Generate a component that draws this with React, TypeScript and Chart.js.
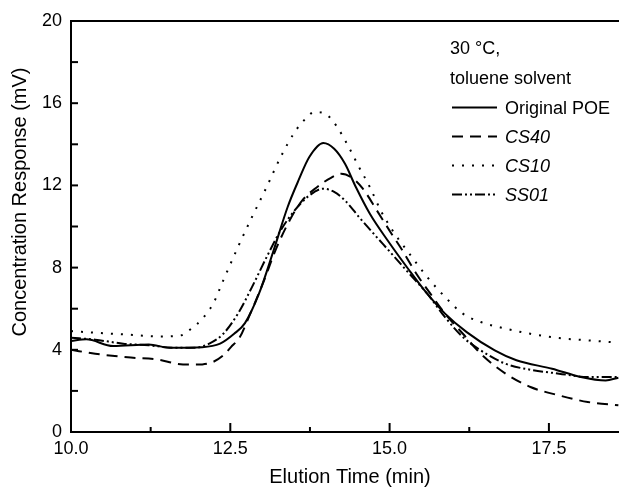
import React, { useEffect, useRef } from 'react';
import { Chart, registerables } from 'chart.js';

Chart.register(...registerables);

// ---- Data ----
const timePOE = [10.0, 10.24, 10.66, 11.22, 11.55, 12.06, 12.34, 12.56, 12.73, 12.95, 13.18, 13.4, 13.57, 13.74, 13.96, 14.13, 14.3, 14.47, 14.69, 14.97, 15.31, 15.59, 15.87, 16.21, 16.65, 16.99, 17.55, 18.0, 18.39, 18.59];
const respPOE = [4.43, 4.51, 4.18, 4.26, 4.1, 4.13, 4.3, 4.78, 5.3, 6.73, 8.84, 10.95, 12.24, 13.38, 14.06, 13.78, 13.05, 11.92, 10.62, 9.32, 7.86, 6.73, 5.76, 4.86, 3.97, 3.49, 3.08, 2.68, 2.51, 2.64];

const timeCS40 = [10.0, 10.38, 10.94, 11.38, 11.66, 11.89, 12.06, 12.23, 12.39, 12.51, 12.65, 12.79, 13.01, 13.23, 13.46, 13.63, 13.85, 14.08, 14.24, 14.41, 14.58, 14.8, 15.03, 15.2, 15.42, 15.64, 15.87, 16.15, 16.43, 16.82, 17.21, 17.66, 18.11, 18.59];
const respCS40 = [4.0, 3.81, 3.62, 3.52, 3.32, 3.28, 3.29, 3.41, 3.73, 4.13, 4.62, 5.59, 7.22, 9.0, 10.46, 11.27, 11.89, 12.37, 12.57, 12.37, 11.84, 10.78, 9.65, 8.84, 7.7, 6.73, 5.76, 4.78, 3.81, 2.84, 2.19, 1.78, 1.46, 1.3];

const timeCS10 = [10.0, 10.38, 10.94, 11.38, 11.72, 11.89, 12.06, 12.23, 12.39, 12.62, 12.84, 13.07, 13.29, 13.51, 13.68, 13.82, 13.99, 14.16, 14.36, 14.52, 14.69, 14.86, 15.08, 15.31, 15.59, 15.87, 16.15, 16.43, 16.82, 17.21, 17.66, 18.11, 18.59];
const respCS10 = [4.91, 4.83, 4.73, 4.65, 4.7, 5.03, 5.51, 6.24, 7.38, 9.0, 10.46, 11.92, 13.38, 14.59, 15.24, 15.57, 15.49, 14.92, 13.86, 12.89, 11.92, 10.78, 9.65, 8.68, 7.54, 6.57, 5.76, 5.35, 5.03, 4.78, 4.57, 4.46, 4.35];

const timeSS01 = [10.0, 10.38, 10.82, 11.22, 11.61, 11.95, 12.17, 12.39, 12.62, 12.84, 13.07, 13.29, 13.51, 13.74, 13.96, 14.13, 14.3, 14.52, 14.75, 15.03, 15.31, 15.59, 15.87, 16.15, 16.43, 16.82, 17.21, 17.66, 18.11, 18.59];
const respSS01 = [4.59, 4.49, 4.3, 4.22, 4.1, 4.1, 4.3, 4.78, 5.76, 7.05, 8.51, 9.81, 10.78, 11.51, 11.84, 11.68, 11.27, 10.46, 9.65, 8.68, 7.7, 6.73, 5.59, 4.62, 3.97, 3.32, 3.03, 2.84, 2.68, 2.68];

const seriesNames = ['Original POE', 'CS40', 'CS10', 'SS01'];
const legendHeader = ['30 \u00B0C,', 'toluene solvent'];
const xTitle = 'Elution Time (min)';
const yTitle = 'Concentration Response (mV)';
const xMin = 10;
const xMax = 18.6;
const xStep = 1.25;
const xLabelStep = 2.5;
const yMin = 0;
const yMax = 20;
const yStep = 2;
const yLabelStep = 4;

const FONT = "'Liberation Sans', Arial, Helvetica, sans-serif";

function pts(xs: number[], ys: number[]) {
  return xs.map((x, i) => ({ x, y: ys[i] }));
}

function isMultiple(v: number, step: number) {
  const r = v / step;
  return Math.abs(r - Math.round(r)) < 1e-6;
}

const overlayPlugin = {
  id: 'overlay',
  afterDraw(chart: any) {
    const ctx = chart.ctx as CanvasRenderingContext2D;
    const { left, right, top, bottom } = chart.chartArea;
    const xs = chart.scales.x;
    const ys = chart.scales.y;
    ctx.save();
    ctx.strokeStyle = '#000';
    ctx.fillStyle = '#000';
    ctx.lineWidth = 2;
    ctx.setLineDash([]);
    // top frame line
    ctx.beginPath();
    ctx.moveTo(left, top);
    ctx.lineTo(right, top);
    ctx.stroke();
    // inward ticks on y
    ys.ticks.forEach((t: any) => {
      const p = ys.getPixelForValue(t.value);
      ctx.beginPath();
      ctx.moveTo(left, p);
      ctx.lineTo(left + 7, p);
      ctx.stroke();
    });
    // inward ticks on x
    xs.ticks.forEach((t: any) => {
      const p = xs.getPixelForValue(t.value);
      const major = isMultiple(t.value, xLabelStep);
      ctx.beginPath();
      ctx.moveTo(p, bottom);
      ctx.lineTo(p, bottom - (major ? 9 : 5));
      ctx.stroke();
    });
    // axis titles
    ctx.font = `20px ${FONT}`;
    ctx.textAlign = 'center';
    ctx.textBaseline = 'middle';
    ctx.fillText(xTitle, 350, 477);
    ctx.save();
    ctx.translate(20, 202);
    ctx.rotate(-Math.PI / 2);
    ctx.fillText(yTitle, 0, 0);
    ctx.restore();
    // legend
    ctx.textAlign = 'left';
    ctx.textBaseline = 'alphabetic';
    ctx.font = `18px ${FONT}`;
    const x0 = 450;
    let baseline = 54;
    legendHeader.forEach((h) => {
      ctx.fillText(h, x0, baseline);
      baseline += 30;
    });
    baseline = 113.5;
    chart.data.datasets.forEach((ds: any, i: number) => {
      const cy = baseline - 6;
      ctx.lineWidth = ds.borderWidth;
      ctx.setLineDash(ds.borderDash || []);
      ctx.beginPath();
      ctx.moveTo(452, cy);
      ctx.lineTo(497, cy);
      ctx.stroke();
      ctx.setLineDash([]);
      ctx.font = `${i === 0 ? '' : 'italic '}18px ${FONT}`;
      ctx.fillText(ds.label, 505, baseline);
      baseline += 29;
    });
    ctx.restore();
  },
};

export default function App() {
  const ref = useRef<HTMLCanvasElement | null>(null);
  useEffect(() => {
    if (!ref.current) return;
    const chart = new Chart(ref.current, {
      type: 'line',
      data: {
        datasets: [
          { label: seriesNames[0], data: pts(timePOE, respPOE), borderColor: '#000', borderWidth: 2, borderDash: [], pointRadius: 0, fill: false, cubicInterpolationMode: 'monotone' },
          { label: seriesNames[1], data: pts(timeCS40, respCS40), borderColor: '#000', borderWidth: 2, borderDash: [11, 7], pointRadius: 0, fill: false, cubicInterpolationMode: 'monotone' },
          { label: seriesNames[2], data: pts(timeCS10, respCS10), borderColor: '#000', borderWidth: 2, borderDash: [2, 8], pointRadius: 0, fill: false, cubicInterpolationMode: 'monotone' },
          { label: seriesNames[3], data: pts(timeSS01, respSS01), borderColor: '#000', borderWidth: 2, borderDash: [10, 3, 2, 3, 2, 3], pointRadius: 0, fill: false, cubicInterpolationMode: 'monotone' },
        ],
      },
      options: {
        responsive: false,
        animation: false,
        devicePixelRatio: 1,
        layout: { padding: { top: 21, right: 0, left: 0, bottom: 0 } },
        plugins: { legend: { display: false }, title: { display: false }, tooltip: { enabled: false } },
        scales: {
          x: {
            type: 'linear',
            min: xMin,
            max: xMax,
            grid: { display: false, drawTicks: false },
            border: { display: true, color: '#000', width: 2 },
            ticks: {
              stepSize: xStep,
              includeBounds: false,
              autoSkip: false,
              maxRotation: 0,
              padding: 6,
              color: '#000',
              font: { family: FONT, size: 18 },
              callback: (v: any) => (isMultiple(Number(v), xLabelStep) ? Number(v).toFixed(1) : ''),
            },
            afterFit: (s: any) => { s.height = 56; },
          },
          y: {
            type: 'linear',
            min: yMin,
            max: yMax,
            grid: { display: false, drawTicks: false },
            border: { display: true, color: '#000', width: 2 },
            ticks: {
              stepSize: yStep,
              autoSkip: false,
              padding: 9,
              color: '#000',
              font: { family: FONT, size: 18 },
              callback: (v: any) => (isMultiple(Number(v), yLabelStep) ? String(v) : ''),
            },
            afterFit: (s: any) => { s.width = 71; },
          },
        },
      } as any,
      plugins: [overlayPlugin],
    });
    return () => chart.destroy();
  }, []);
  return (
    <canvas
      ref={ref}
      width={619}
      height={488}
      style={{ position: 'absolute', left: 0, top: 0, width: 619, height: 488, background: '#fff' }}
    />
  );
}
